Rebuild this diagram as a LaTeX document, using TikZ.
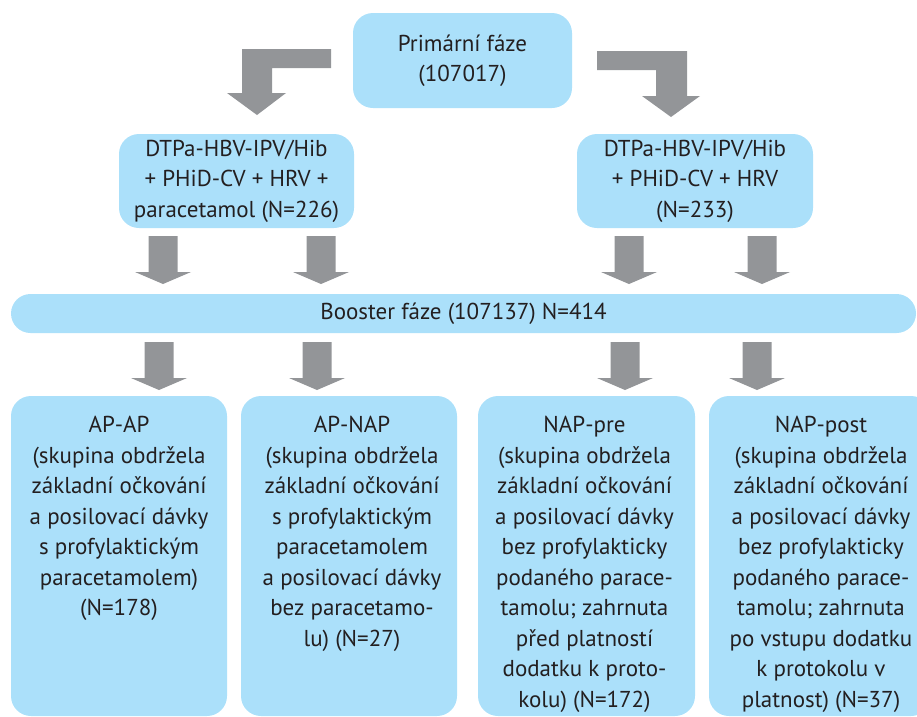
\documentclass[tikz,border=0pt]{standalone}
\usepackage{fontspec}
\setmainfont{PT Sans}
\definecolor{boxblue}{RGB}{171,224,250}
\definecolor{arrowgray}{RGB}{147,149,152}
\definecolor{txt}{RGB}{35,31,32}
\begin{document}
\begin{tikzpicture}[x=1pt,y=-1pt,
  box/.style={fill=boxblue, rounded corners=20pt, inner sep=0pt, text=txt,
    font=\fontsize{23}{30.5}\selectfont, align=center},
  lbl/.style={text=txt, font=\fontsize{23}{30.5}\selectfont, align=center, inner sep=0pt, anchor=north},
  dnarrow/.pic={\fill[arrowgray] (-14.5,0) -- (14.5,0) -- (14.5,36) -- (28,36) -- (0,48) -- (-28,36) -- (-14.5,36) -- cycle;}]
\useasboundingbox (0,0) rectangle (917,716);

% top
\node[box, minimum width=219pt, minimum height=95pt] (prim) at (462.5,60.5) {Primární fáze\\(107017)};

% elbow arrows
\fill[arrowgray] (331,49) -- (242,49) -- (242,93) -- (227,93) -- (257,115) -- (286,93) -- (272,93) -- (272,68) -- (331,68) -- cycle;
\fill[arrowgray] (597,51) -- (687,51) -- (687,96) -- (700,96) -- (671,117) -- (642,96) -- (656,96) -- (656,70) -- (597,70) -- cycle;

% second row
\node[box, minimum width=235pt, minimum height=94pt] (ap) at (236.5,181) {DTPa-HBV-IPV/Hib\\+ PHiD-CV + HRV +\\paracetamol (N=226)};
\node[box, minimum width=236pt, minimum height=94pt] (nap) at (695,181) {DTPa-HBV-IPV/Hib\\+ PHiD-CV + HRV\\(N=233)};

\pic at (163,236) {dnarrow};
\pic at (321,236) {dnarrow};
\pic at (629,236) {dnarrow};
\pic at (762,236) {dnarrow};

% booster
\node[box, rounded corners=19.5pt, minimum width=905pt, minimum height=39pt] (boost) at (463.5,313.5) {Booster fáze (107137) N=414};

\pic at (159,342) {dnarrow};
\pic at (317,342) {dnarrow};
\pic at (625,342) {dnarrow};
\pic at (757,342) {dnarrow};

% bottom boxes
\node[box, minimum width=216pt, minimum height=320pt] (b1) at (119,556) {};
\node[box, minimum width=216pt, minimum height=320pt] (b2) at (349,556) {};
\node[box, minimum width=217pt, minimum height=320pt] (b3) at (586.5,556) {};
\node[box, minimum width=222pt, minimum height=320pt] (b4) at (820,556) {};

\node[lbl] (t1) at (119,416) {AP-AP\\(skupina obdržela\\základní očkování\\a posilovací dávky\\s profylaktickým\\paracetamolem)\\(N=178)};
\node[lbl] (t2) at (352,416) {AP-NAP\\(skupina obdržela\\základní očkování\\s profylaktickým\\paracetamolem\\a posilovací dávky\\bez paracetamo-\\lu) (N=27)};
\node[lbl] (t3) at (584.5,416) {NAP-pre\\(skupina obdržela\\základní očkování\\a posilovací dávky\\bez profylakticky\\podaného parace-\\tamolu; zahrnuta\\před platností\\dodatku k proto-\\kolu) (N=172)};
\node[lbl] (t4) at (821,416) {NAP-post\\(skupina obdržela\\základní očkování\\a posilovací dávky\\bez profylakticky\\podaného parace-\\tamolu; zahrnuta\\po vstupu dodatku\\k protokolu v\\platnost) (N=37)};
\end{tikzpicture}
\end{document}
